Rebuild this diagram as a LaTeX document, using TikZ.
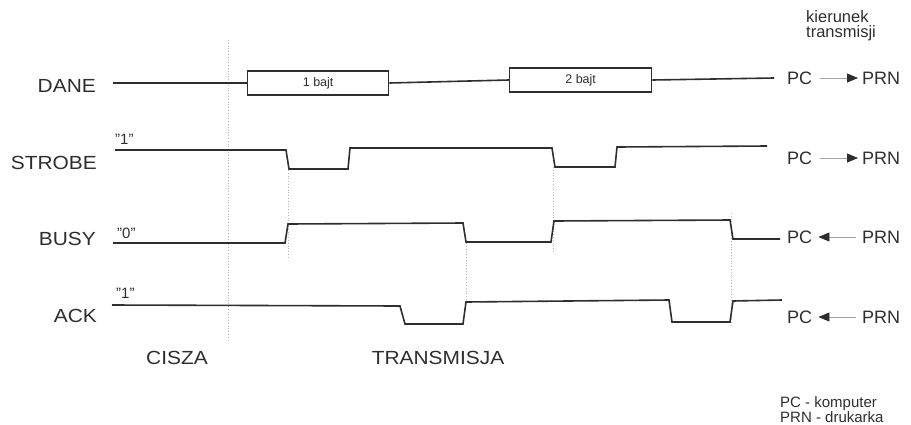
\documentclass[tikz,border=0pt]{standalone}
\usepackage{fontspec}
\setmainfont{Liberation Sans}
\newfontfamily\lab[FakeStretch=1.1]{Liberation Sans}
\usetikzlibrary{arrows.meta}
\definecolor{ink}{HTML}{2E2E2E}
\definecolor{dotc}{HTML}{B8B8B8}
\tikzset{
  wave/.style={draw=ink, line width=1.6pt, line join=miter},
  bytebox/.style={draw=ink, line width=1.3pt, rectangle, minimum height=24pt, inner sep=0pt, font=\fontsize{12.5}{13}\selectfont, text=ink, anchor=west},
  sig/.style={font=\lab\fontsize{19}{20}\selectfont, text=ink, anchor=east, inner sep=0pt},
  lvl/.style={font=\fontsize{15}{16}\selectfont, text=ink, anchor=west, inner sep=0pt},
  phase/.style={font=\lab\fontsize{19}{20}\selectfont, text=ink, inner sep=0pt},
  dirtxt/.style={font=\fontsize{18}{19}\selectfont, text=ink, inner sep=0pt},
  hdrtxt/.style={font=\fontsize{16.5}{15}\selectfont, text=ink, inner sep=0pt, align=left},
  legtxt/.style={font=\fontsize{15}{13.5}\selectfont, text=ink, inner sep=0pt, align=left},
  dir/.style={draw=gray!70, line width=0.8pt, -{Triangle[length=11pt,width=9pt,fill=ink,color=ink]}},
  guide/.style={draw=dotc, line width=0.8pt, dotted}
}
\begin{document}
\begin{tikzpicture}[x=1pt,y=-1pt]
\useasboundingbox (0,0) rectangle (911,424);

% guide lines
\draw[guide] (228,40) -- (228,340);
\draw[guide] (288,170) -- (288,257);
\draw[guide] (553,167) -- (553,253);
\draw[guide] (466,243) -- (466,303);
\draw[guide] (731,213) -- (731,327);

% signal names
\node[sig] (nDane) at (96,86) {DANE};
\node[sig] (nStrobe) at (97,163) {STROBE};
\node[sig] (nBusy) at (96,239) {BUSY};
\node[sig] (nAck) at (97,316) {ACK};

% level labels
\node[lvl] (l1) at (115,139) {"1"};
\node[lvl] (l0) at (117,233) {"0"};
\node[lvl] (l2) at (116,293) {"1"};

% DANE
\coordinate (d0) at (113,83);
\node[bytebox, minimum width=141pt] (b1) at (247,83) {1 bajt};
\node[bytebox, minimum width=142pt] (b2) at (509,80) {2 bajt};
\coordinate (d1) at (774,78);
\draw[wave] (d0) -- (b1.west);
\draw[wave] (b1.east) -- (b2.west);
\draw[wave] (b2.east) -- (d1);

% STROBE
\draw[wave] (115,150) -- (286,150) -- (289,169) -- (348,169) -- (350,148) -- (552,148) -- (555,167) -- (615,167) -- (617,147) -- (767,146);

% BUSY
\draw[wave] (113,243) -- (285,243) -- (288,224) -- (463,223) -- (466,242) -- (551,242) -- (554,221) -- (730,220) -- (733,239) -- (780,239);

% ACK
\draw[wave] (112,305) -- (400,306) -- (405,324) -- (463,324) -- (466,302) -- (669,300) -- (672,322) -- (730,322) -- (733,301) -- (782,300);

% phases
\node[phase] (cisza) at (177,358) {CISZA};
\node[phase] (trans) at (438,358) {TRANSMISJA};

% direction header
\node[hdrtxt, anchor=north west] (hdr) at (806,10) {kierunek\\transmisji};

% directions
\node[dirtxt, anchor=west] (pc1) at (787,78) {PC};
\node[dirtxt, anchor=west] (prn1) at (862,78) {PRN};
\draw[dir] ([xshift=8pt]pc1.east) -- ([xshift=-4pt]prn1.west);

\node[dirtxt, anchor=west] (pc2) at (787,158) {PC};
\node[dirtxt, anchor=west] (prn2) at (862,158) {PRN};
\draw[dir] ([xshift=8pt]pc2.east) -- ([xshift=-4pt]prn2.west);

\node[dirtxt, anchor=west] (pc3) at (787,237) {PC};
\node[dirtxt, anchor=west] (prn3) at (862,237) {PRN};
\draw[dir] ([xshift=-6pt]prn3.west) -- ([xshift=6pt]pc3.east);

\node[dirtxt, anchor=west] (pc4) at (787,317) {PC};
\node[dirtxt, anchor=west] (prn4) at (862,317) {PRN};
\draw[dir] ([xshift=-6pt]prn4.west) -- ([xshift=6pt]pc4.east);

% legend
\node[legtxt, anchor=north west] (leg) at (780,396) {PC - komputer\\PRN - drukarka};
\end{tikzpicture}
\end{document}
